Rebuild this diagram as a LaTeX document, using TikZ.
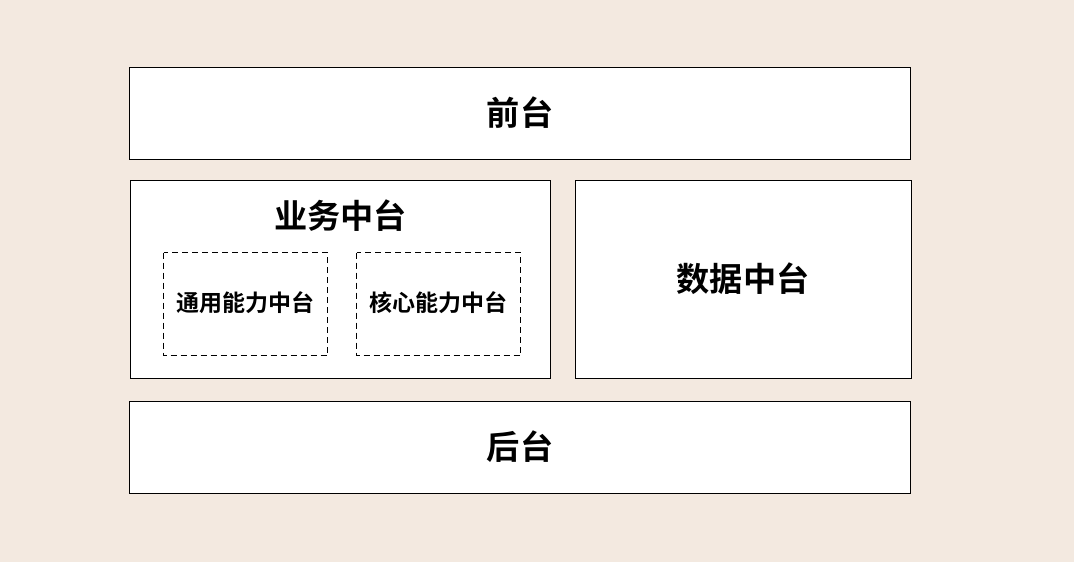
\documentclass[tikz,border=0pt]{standalone}
\usepackage{fontspec}
\newfontfamily\cjk{Noto Sans CJK SC Bold}
\definecolor{bg}{HTML}{F3E9E0}
\begin{document}
\begin{tikzpicture}[x=1pt,y=-1pt,
  box/.style={draw=black,fill=white,line width=1pt},
  dbox/.style={draw=black,line width=1pt,dash pattern=on 6pt off 4pt},
  big/.style={font=\cjk\fontsize{33.2}{38}\selectfont},
  small/.style={font=\cjk\fontsize{23}{27}\selectfont}]
\fill[bg] (0,0) rectangle (1074,562);
\useasboundingbox (0,0) rectangle (1074,562);
\draw[box] (129.5,67.5) rectangle (910.5,159.5);
\draw[box] (130.5,180.5) rectangle (550.5,378.5);
\draw[box] (575.5,180.5) rectangle (911.5,378.5);
\draw[box] (129.5,401.5) rectangle (910.5,493.5);
\draw[dbox] (163.5,252.5) rectangle (327.5,355.5);
\draw[dbox] (356.5,252.5) rectangle (520.5,355.5);
\node[big] (qt) at (520,113) {前台};
\node[big] (yw) at (340.5,216) {业务中台};
\node[big] (sj) at (743,279) {数据中台};
\node[big] (ht) at (520,447) {后台};
\node[small] (ty) at (245,303) {通用能力中台};
\node[small] (hx) at (438,303) {核心能力中台};
\end{tikzpicture}
\end{document}
